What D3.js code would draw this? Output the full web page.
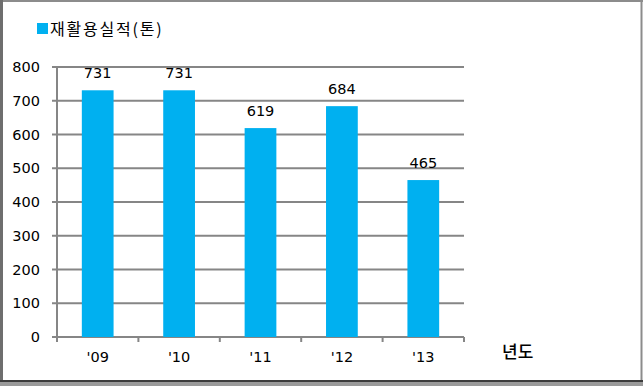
<!DOCTYPE html>
<html>
<head>
<meta charset="utf-8">
<script src="https://cdn.jsdelivr.net/npm/d3@7"></script>
<style>
  body { margin: 0; background: #fff; }
  text { font-family: "DejaVu Sans", sans-serif; }
</style>
</head>
<body>
<script>
const years = ["'09", "'10", "'11", "'12", "'13"];
const recycled = [731, 731, 619, 684, 465];
const yTicks = [0, 100, 200, 300, 400, 500, 600, 700, 800];
const seriesName = "재활용실적(톤)";
const xTitle = "년도";

const W = 643, H = 386;
const svg = d3.select("body").append("svg")
  .attr("width", W).attr("height", H);

// frame round the chart
svg.append("rect").attr("width", W).attr("height", H).attr("fill", "#fff");
svg.append("line").attr("x1", 0).attr("x2", W).attr("y1", 1).attr("y2", 1)
  .attr("stroke", "#8c8c8c").attr("stroke-width", 2);
svg.append("line").attr("x1", 1.5).attr("x2", 1.5).attr("y1", 0).attr("y2", H)
  .attr("stroke", "#6e6e6e").attr("stroke-width", 3);
svg.append("line").attr("x1", 641.5).attr("x2", 641.5).attr("y1", 0).attr("y2", H)
  .attr("stroke", "#8c8c8c").attr("stroke-width", 2);
svg.append("line").attr("x1", 0).attr("x2", W).attr("y1", 381).attr("y2", 381)
  .attr("stroke", "#3c3c3c").attr("stroke-width", 2);
svg.append("rect").attr("x", 0).attr("y", 382).attr("width", W).attr("height", 4)
  .attr("fill", "#9a9a9a");

const x = d3.scaleBand().domain(years).range([57, 464]).paddingInner(0.61).paddingOuter(0.305);
const y = d3.scaleLinear().domain([0, 800]).range([337, 67]);

// grid lines
svg.append("g").selectAll("line").data(yTicks).join("line")
  .attr("x1", 52).attr("x2", 464)
  .attr("y1", d => y(d)).attr("y2", d => y(d))
  .attr("stroke", "#868686").attr("stroke-width", 2);

// y axis
svg.append("line").attr("x1", 57).attr("x2", 57).attr("y1", y(800)).attr("y2", 342)
  .attr("stroke", "#868686").attr("stroke-width", 2);
svg.append("g").selectAll("text").data(yTicks).join("text")
  .attr("x", 40).attr("y", d => y(d)).attr("dy", "0.35em")
  .attr("text-anchor", "end").attr("font-size", 14.5).attr("fill", "#000")
  .text(d => d);

// x axis ticks at category boundaries
const step = x.step();
svg.append("g").selectAll("line").data(d3.range(years.length + 1)).join("line")
  .attr("x1", i => 57 + i * step).attr("x2", i => 57 + i * step)
  .attr("y1", 337).attr("y2", 342)
  .attr("stroke", "#868686").attr("stroke-width", 2);

// bars
svg.append("g").selectAll("rect").data(recycled).join("rect")
  .attr("x", (d, i) => x(years[i]))
  .attr("y", d => y(d))
  .attr("width", x.bandwidth())
  .attr("height", d => y(0) - y(d))
  .attr("fill", "#00b0f0");

// value labels
svg.append("g").selectAll("text").data(recycled).join("text")
  .attr("x", (d, i) => x(years[i]) + x.bandwidth() / 2)
  .attr("y", d => y(d) - 12)
  .attr("text-anchor", "middle").attr("font-size", 14.5).attr("fill", "#000")
  .text(d => d);

// category labels
svg.append("g").selectAll("text").data(years).join("text")
  .attr("x", d => x(d) + x.bandwidth() / 2)
  .attr("y", 362)
  .attr("text-anchor", "middle").attr("font-size", 14.5).attr("fill", "#000")
  .text(d => d);

// axis title
svg.append("text").attr("x", 502).attr("y", 358)
  .attr("font-size", 17).attr("font-weight", 500)
  .style("font-family", "'Noto Sans CJK KR', sans-serif")
  .text(xTitle);

// legend
svg.append("rect").attr("x", 37).attr("y", 23).attr("width", 11).attr("height", 11)
  .attr("fill", "#00b0f0");
svg.append("text").attr("x", 50).attr("y", 35)
  .attr("font-size", 16).attr("letter-spacing", 1.8)
  .style("font-family", "'Noto Sans CJK KR', sans-serif")
  .text(seriesName);
</script>
</body>
</html>
